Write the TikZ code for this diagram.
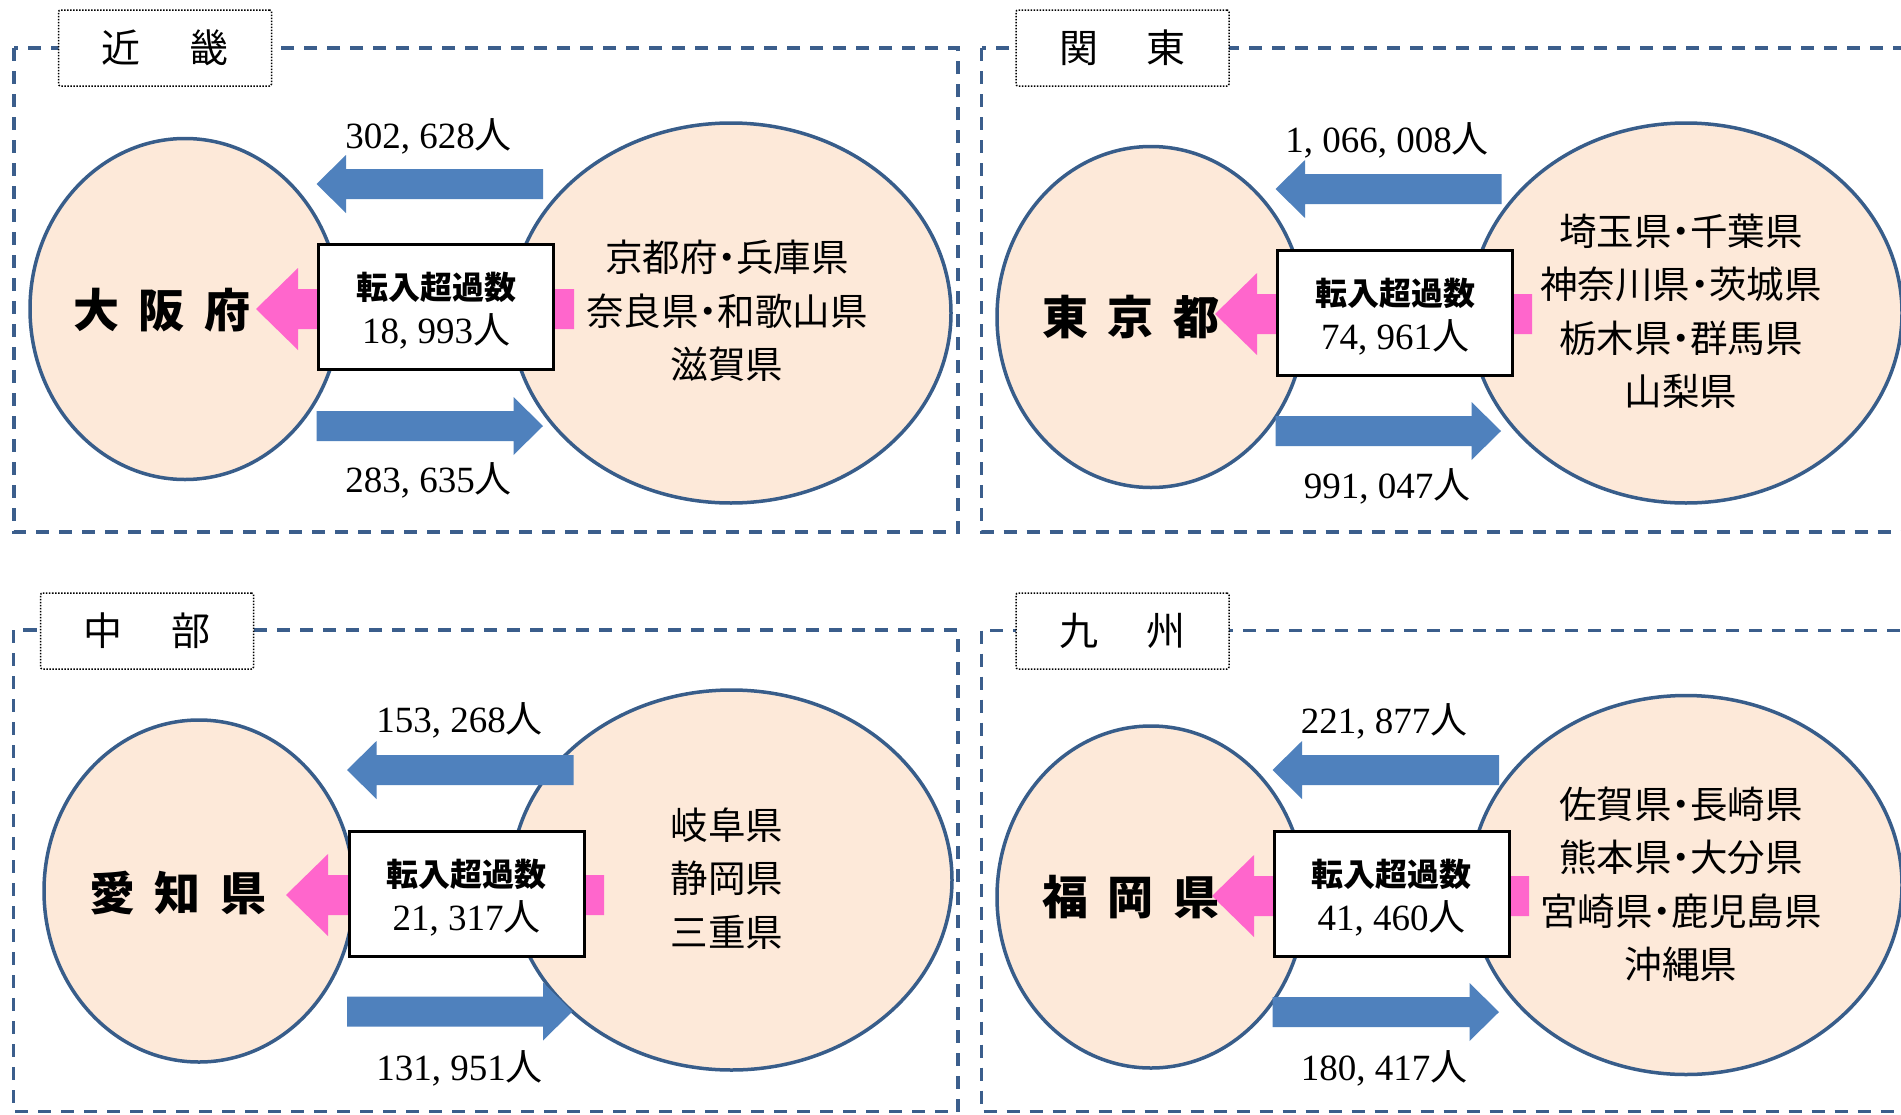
\documentclass[tikz,border=0pt]{standalone}
\usepackage{fontspec}
\usetikzlibrary{shapes.geometric}
\newfontfamily\jp{Noto Sans CJK JP}
\newfontfamily\numf{Liberation Serif}
\definecolor{framecol}{RGB}{59,94,140}
\definecolor{ellline}{RGB}{56,93,138}
\definecolor{ellfill}{RGB}{253,233,217}
\definecolor{arrblue}{RGB}{79,129,189}
\definecolor{arrpink}{RGB}{255,102,204}
\newcommand\ppl[1]{{\numf #1}{\jp 人}}
\newcommand\pdot{\makebox[0.5em]{・}}
\newcommand\bluetoleft[3]{\fill[arrblue] (#1,#3) -- (#1+29.5,#3-29) -- (#1+29.5,#3-15) -- (#2,#3-15) -- (#2,#3+15) -- (#1+29.5,#3+15) -- (#1+29.5,#3+29) -- cycle;}
\newcommand\bluetoright[3]{\fill[arrblue] (#2,#3) -- (#2-29.5,#3-29) -- (#2-29.5,#3-15) -- (#1,#3-15) -- (#1,#3+15) -- (#2-29.5,#3+15) -- (#2-29.5,#3+29) -- cycle;}
\newcommand\pinktoleft[3]{\fill[arrpink] (#1,#3) -- (#1+42,#3-41) -- (#1+42,#3-20) -- (#2,#3-20) -- (#2,#3+20) -- (#1+42,#3+20) -- (#1+42,#3+41) -- cycle;}
\tikzset{
  frame/.style={draw=framecol, line width=3.5pt, dash pattern=on 13pt off 10pt},
  titlebox/.style={draw=black, fill=white, line width=1.5pt, dash pattern=on 1.5pt off 1.5pt,
    rounded corners=2pt, minimum width=213pt, minimum height=76pt, inner sep=0pt,
    font=\jp\fontsize{39}{39}\selectfont},
  cityell/.style={ellipse, draw=ellline, fill=ellfill, line width=3.5pt, inner sep=0pt},
  nametext/.style={font=\jp\bfseries\fontsize{46}{46}\selectfont, inner sep=0pt},
  preftext/.style={font=\jp\fontsize{37.5}{53.5}\selectfont, align=center, inner sep=0pt},
  netbox/.style={draw=black, fill=white, line width=3pt, inner sep=0pt, minimum width=235pt, minimum height=125pt},
  boxhead/.style={font=\jp\bfseries\fontsize{32}{32}\selectfont, inner sep=0pt},
  countlabel/.style={font=\fontsize{37}{37}\selectfont, inner sep=0pt},
}
\begin{document}
\begin{tikzpicture}[x=1pt, y=-1pt]
\useasboundingbox (0,0) rectangle (1901,1114);
\clip (0,0) rectangle (1901,1114);
\fill[white] (0,0) rectangle (1901,1114);

% ---------------- Kinki ----------------
\draw[frame] (14,48) rectangle (958,532);
\node[titlebox] (kinkiT) at (165,48) {近\hspace{49pt}畿};
\node[cityell, minimum width=310pt, minimum height=341pt] (osaka) at (185,309) {};
\node[cityell, minimum width=440pt, minimum height=380pt] (kinkiR) at (731,313) {};
\bluetoleft{316.5}{543}{184}
\bluetoright{316.5}{543}{426}
\pinktoleft{256}{574}{309}
\node[netbox] (kinkiBox) at (436,307) {};
\node[boxhead] (kinkiH) at (436,287) {転入超過数};
\node[countlabel] (kinkiN) at (436,331) {\ppl{18, 993}};
\node[countlabel] (kinkiIn) at (428.5,136) {\ppl{302, 628}};
\node[countlabel] (kinkiOut) at (428.5,480) {\ppl{283, 635}};
\node[nametext] (osakaN) at (162,310) {大\hspace{20pt}阪\hspace{20pt}府};
\node[preftext] (kinkiP) at (727,311) {京都府\pdot 兵庫県\\奈良県\pdot 和歌山県\\滋賀県};

% ---------------- Kanto ----------------
\draw[frame] (981.5,48) rectangle (1960,532);
\node[titlebox] (kantoT) at (1122.5,48) {関\hspace{49pt}東};
\node[cityell, minimum width=308pt, minimum height=341pt] (tokyo) at (1151,317) {};
\node[cityell, minimum width=432pt, minimum height=380pt] (kantoR) at (1686,313) {};
\bluetoleft{1275.5}{1501.5}{189}
\bluetoright{1275.5}{1501}{431}
\pinktoleft{1215}{1532}{314}
\node[netbox] (kantoBox) at (1395,313) {};
\node[boxhead] (kantoH) at (1395,293) {転入超過数};
\node[countlabel] (kantoN) at (1395,337) {\ppl{74, 961}};
\node[countlabel] (kantoIn) at (1387,140) {\ppl{1, 066, 008}};
\node[countlabel] (kantoOut) at (1387,486) {\ppl{991, 047}};
\node[nametext] (tokyoN) at (1131,317) {東\hspace{20pt}京\hspace{20pt}都};
\node[preftext] (kantoP) at (1681,311) {埼玉県\pdot 千葉県\\神奈川県\pdot 茨城県\\栃木県\pdot 群馬県\\山梨県};

% ---------------- Chubu ----------------
\draw[frame] (13.5,630) rectangle (958,1111.5);
\node[titlebox] (chubuT) at (147,631) {中\hspace{49pt}部};
\node[cityell, minimum width=310pt, minimum height=342pt] (aichi) at (199,891) {};
\node[cityell, minimum width=441pt, minimum height=380pt] (chubuR) at (731.5,880) {};
\bluetoleft{347}{573.5}{770}
\bluetoright{347}{572.5}{1011.5}
\pinktoleft{286}{604}{895}
\node[netbox] (chubuBox) at (466.5,894) {};
\node[boxhead] (chubuH) at (466.5,874) {転入超過数};
\node[countlabel] (chubuN) at (466.5,918) {\ppl{21, 317}};
\node[countlabel] (chubuIn) at (459.5,720) {\ppl{153, 268}};
\node[countlabel] (chubuOut) at (459.5,1068) {\ppl{131, 951}};
\node[nametext] (aichiN) at (178,893) {愛\hspace{20pt}知\hspace{20pt}県};
\node[preftext] (chubuP) at (727,878.5) {岐阜県\\静岡県\\三重県};

% ---------------- Kyushu ----------------
\draw[frame] (981.5,630.5) rectangle (1960,1111.5);
\node[titlebox] (kyushuT) at (1122.5,631) {九\hspace{49pt}州};
\node[cityell, minimum width=308pt, minimum height=342pt] (fukuoka) at (1151,897) {};
\node[cityell, minimum width=432pt, minimum height=379pt] (kyushuR) at (1686,885) {};
\bluetoleft{1272.5}{1499}{770}
\bluetoright{1272.5}{1499}{1012}
\pinktoleft{1212}{1529}{896}
\node[netbox] (kyushuBox) at (1391.5,894) {};
\node[boxhead] (kyushuH) at (1391.5,874) {転入超過数};
\node[countlabel] (kyushuN) at (1391.5,918) {\ppl{41, 460}};
\node[countlabel] (kyushuIn) at (1384,721) {\ppl{221, 877}};
\node[countlabel] (kyushuOut) at (1384,1068) {\ppl{180, 417}};
\node[nametext] (fukuokaN) at (1131,897) {福\hspace{20pt}岡\hspace{20pt}県};
\node[preftext] (kyushuP) at (1681,884.5) {佐賀県\pdot 長崎県\\熊本県\pdot 大分県\\宮崎県\pdot 鹿児島県\\沖縄県};
\end{tikzpicture}
\end{document}
